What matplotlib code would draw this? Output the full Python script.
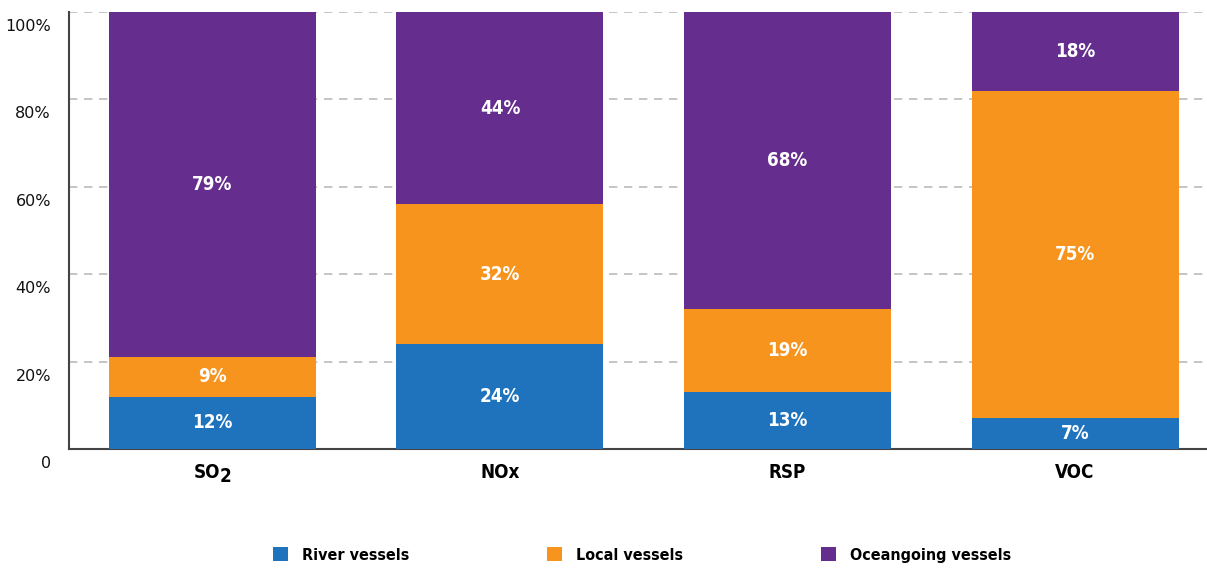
import matplotlib.pyplot as plt
import matplotlib.transforms as mtransforms
from matplotlib import font_manager
from matplotlib.patches import Patch

# Данные
pollutants = ["SO", "NOx", "RSP", "VOC"]   # у SO2 индекс "2" рисуется отдельно
river = [12, 24, 13, 7]
local = [9, 32, 19, 75]
ocean = [79, 44, 68, 18]
series_names = ["River vessels", "Local vessels", "Oceangoing vessels"]
y_ticks = [0, 20, 40, 60, 80, 100]
y_labels = ["0", "20%", "40%", "60%", "80%", "100%"]

COLORS = ["#1f73bd", "#f7941d", "#652d8e"]

# Узкий жирный шрифт
BOLD = font_manager.FontProperties(family="DejaVu Sans", weight="bold",
                                   stretch="condensed")

fig = plt.figure(figsize=(12.07, 5.68), dpi=100)
ax = fig.add_axes([69 / 1207, 1 - 449 / 568, 1138 / 1207, 437 / 568])

x = list(range(len(pollutants)))
bottoms = [0] * len(pollutants)
for values, color, name in zip([river, local, ocean], COLORS, series_names):
    bars = ax.bar(x, values, bottom=bottoms, width=0.72, color=color,
                  label=name, zorder=3)
    for bar, v in zip(bars, values):
        ax.text(bar.get_x() + bar.get_width() / 2,
                bar.get_y() + bar.get_height() / 2,
                f"{v}%", ha="center", va="center", color="white",
                fontproperties=BOLD, fontsize=13.5, zorder=4)
    bottoms = [b + v for b, v in zip(bottoms, values)]

ax.set_xlim(-0.499, 3.459)
ax.set_ylim(0, 100)

ax.set_yticks(y_ticks)
ax.set_yticklabels(y_labels, fontsize=11.5, color="#111111")
ax.tick_params(axis="y", length=0, pad=13)
# подписи оси Y чуть ниже линий
shift = mtransforms.ScaledTranslation(0, -0.13, fig.dpi_scale_trans)
for lbl in ax.get_yticklabels():
    lbl.set_transform(lbl.get_transform() + shift)

ax.set_xticks(x)
ax.set_xticklabels(pollutants)
for lbl in ax.get_xticklabels():
    lbl.set_fontproperties(BOLD)
    lbl.set_fontsize(13.5)
ax.tick_params(axis="x", length=0, pad=10)

for y in y_ticks[1:]:
    ax.axhline(y, color="#bbbbbb", linestyle=(0, (5, 4)), linewidth=1.2, zorder=1)

for side in ["top", "right"]:
    ax.spines[side].set_visible(False)
for side in ["left", "bottom"]:
    ax.spines[side].set_color("#444444")
    ax.spines[side].set_linewidth(1.5)

legend_font = BOLD.copy()
legend_font.set_size(11.5)
handles = [Patch(facecolor=c, edgecolor="none") for c in COLORS]
fig.legend(handles, series_names, loc="center", bbox_to_anchor=(0.532, 0.023),
           ncol=3, frameon=False, handlelength=0.95, handleheight=0.95,
           columnspacing=8.6, handletextpad=0.9, prop=legend_font)

# индекс "2" у SO2: чуть ниже строки, вся подпись по центру столбца
so_label = ax.get_xticklabels()[0]
so_label.set_transform(so_label.get_transform()
                       + mtransforms.ScaledTranslation(-0.05, 0, fig.dpi_scale_trans))
fig.canvas.draw()
bbox = so_label.get_window_extent()
fig.text((bbox.x1 - 1) / fig.bbox.width, (bbox.y0 - 4) / fig.bbox.height, "2",
         fontproperties=BOLD, fontsize=13.5, ha="left", va="bottom")

fig.savefig("out.png", dpi=100)
